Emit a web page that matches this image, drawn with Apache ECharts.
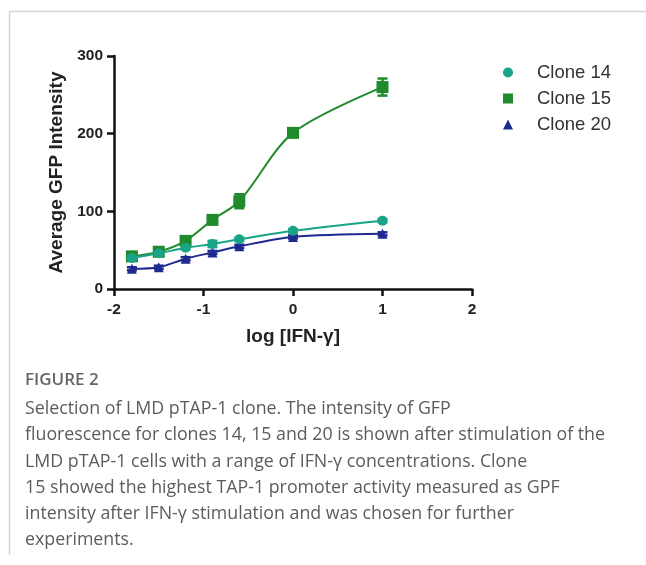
<!DOCTYPE html>
<html>
<head>
<meta charset="utf-8">
<script src="https://cdn.jsdelivr.net/npm/echarts@6/dist/echarts.min.js"></script>
<style>
  html, body { margin: 0; padding: 0; background: #fff; }
  #main { width: 646px; height: 565px; }
</style>
</head>
<body>
<div id="main"></div>
<script>
// log [IFN-y] doses and mean GFP readings per clone
var logDose = [-1.8, -1.5, -1.2, -0.9, -0.6, 0, 1];
var clone14 = [40, 46, 53, 58, 64, 75, 88];
var clone15 = [42, 48, 62, 89, 113, 201, 260];
var clone20 = [26, 28, 39, 47, 55, 67, 71];
var err14 = [2, 2, 2, 4, 2, 2, 2];
var err15 = [3, 3, 4, 3, 9, 5, 11];
var err20 = [2, 2, 2, 2, 2, 2, 2];
var seriesNames = ['Clone 14', 'Clone 15', 'Clone 20'];
var colors = ['#19a387', '#1f8b2c', '#1f2a8f'];
var symbols = ['circle', 'rect', 'triangle'];

var captionTitle = 'FIGURE 2';
var captionLines = [
  'Selection of LMD pTAP-1 clone. The intensity of GFP',
  'fluorescence for clones 14, 15 and 20 is shown after stimulation of the',
  'LMD pTAP-1 cells with a range of IFN-\u03b3 concentrations. Clone',
  '15 showed the highest TAP-1 promoter activity measured as GPF',
  'intensity after IFN-\u03b3 stimulation and was chosen for further',
  'experiments.'
];

var chartDom = document.getElementById('main');
var myChart = echarts.init(chartDom);
var option;

function pairs(ys, errs) {
  return logDose.map(function (x, i) {
    return errs ? [x, ys[i], errs[i]] : [x, ys[i]];
  });
}

function errorBars(params, api) {
  var x = api.value(0), y = api.value(1), e = api.value(2);
  var hi = api.coord([x, y + e]);
  var lo = api.coord([x, y - e]);
  var w = 5;
  var style = { stroke: api.visual('color'), lineWidth: 2.5 };
  return {
    type: 'group',
    children: [
      { type: 'line', shape: { x1: hi[0], y1: hi[1], x2: lo[0], y2: lo[1] }, style: style },
      { type: 'line', shape: { x1: hi[0] - w, y1: hi[1], x2: hi[0] + w, y2: hi[1] }, style: style },
      { type: 'line', shape: { x1: lo[0] - w, y1: lo[1], x2: lo[0] + w, y2: lo[1] }, style: style }
    ]
  };
}

var values = [clone14, clone15, clone20];
var errs = [err14, err15, err20];
var series = [];
seriesNames.forEach(function (name, i) {
  series.push({
    name: name,
    type: 'line',
    smooth: 0.3,
    data: pairs(values[i]),
    symbol: symbols[i],
    symbolSize: i === 1 ? 12 : 10,
    color: colors[i],
    lineStyle: { width: 2, color: colors[i] },
    itemStyle: { color: colors[i] },
    z: 3 - i
  });
  series.push({
    name: name,
    type: 'custom',
    renderItem: errorBars,
    data: pairs(values[i], errs[i]),
    itemStyle: { color: colors[i] },
    encode: { x: 0, y: 1 },
    z: 3 - i
  });
});

var captionGraphics = [
  {
    type: 'text', left: 25, top: 372,
    style: { text: captionTitle, fill: '#666', font: '600 17px "Open Sans"' }
  },
  {
    type: 'text', left: 25, top: 396,
    style: {
      text: captionLines.join('\n'), fill: '#5c5c5c',
      font: '17.8px "Open Sans"', lineHeight: 26.2
    }
  }
];

option = {
  animation: false,
  backgroundColor: '#fff',
  grid: { left: 114, right: 174, top: 56, bottom: 276 },
  legend: {
    orient: 'vertical',
    left: 498,
    top: 58,
    itemWidth: 10,
    itemHeight: 10,
    itemGap: 7,
    data: seriesNames.map(function (n, i) {
      return { name: n, icon: symbols[i] };
    }),
    textStyle: {
      fontFamily: 'Liberation Sans', fontSize: 18.5, color: '#333',
      lineHeight: 18, padding: [0, 0, 0, 19]
    }
  },
  xAxis: {
    type: 'value',
    min: -2, max: 2, interval: 1,
    name: 'log [IFN-\u03b3]',
    nameLocation: 'middle',
    nameGap: 38,
    nameTextStyle: { fontFamily: 'Liberation Sans', fontWeight: 'bold', fontSize: 19, color: '#222' },
    splitLine: { show: false },
    axisLine: { onZero: false, lineStyle: { color: '#111', width: 2.5 } },
    axisTick: { length: 7, lineStyle: { color: '#111', width: 2.5 } },
    axisLabel: { margin: 13, fontFamily: 'Liberation Sans', fontWeight: 'bold', fontSize: 15.5, color: '#222' }
  },
  yAxis: {
    type: 'value',
    min: 0, max: 300, interval: 100,
    name: 'Average GFP Intensity',
    nameLocation: 'middle',
    nameGap: 44,
    nameTextStyle: { fontFamily: 'Liberation Sans', fontWeight: 'bold', fontSize: 19, color: '#222' },
    splitLine: { show: false },
    axisLine: { show: true, onZero: false, lineStyle: { color: '#111', width: 2.5 } },
    axisTick: { show: true, length: 7, lineStyle: { color: '#111', width: 2.5 } },
    axisLabel: { margin: 11, fontFamily: 'Liberation Sans', fontWeight: 'bold', fontSize: 15.5, color: '#222' }
  },
  graphic: [
    { type: 'line', shape: { x1: 10, y1: 11.5, x2: 646, y2: 11.5 }, style: { stroke: '#d6d6d6', lineWidth: 1.5 } },
    { type: 'line', shape: { x1: 9.5, y1: 11, x2: 9.5, y2: 555 }, style: { stroke: '#d6d6d6', lineWidth: 1.5 } }
  ].concat(captionGraphics),
  series: series
};

option && myChart.setOption(option);
</script>
</body>
</html>
